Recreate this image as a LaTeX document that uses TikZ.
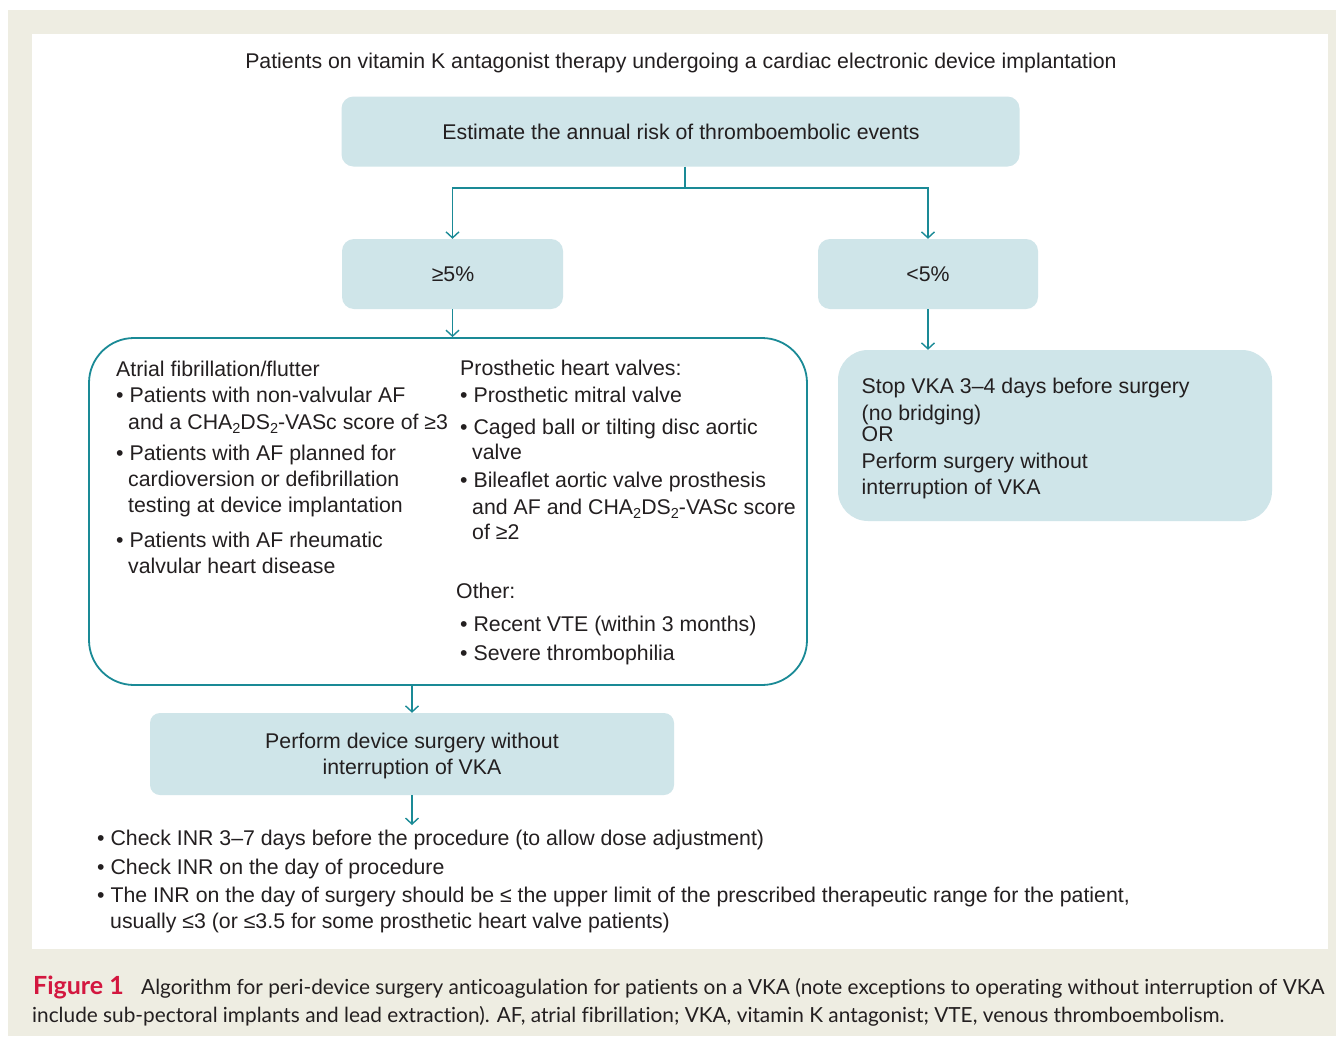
\documentclass[tikz,border=0pt]{standalone}
\usepackage{fontspec}
\setmainfont{Liberation Sans}
\newfontfamily\capfont[Ligatures=NoCommon]{Lato}
\usetikzlibrary{arrows.meta}
\definecolor{beige}{HTML}{EEEDE2}
\definecolor{boxblue}{HTML}{CFE5E9}
\definecolor{teal}{HTML}{1A8A96}
\definecolor{ink}{HTML}{231F20}
\definecolor{crimson}{HTML}{D3173F}
\newcommand{\lowsub}[1]{\raisebox{-4.5pt}{\fontsize{14.5}{14.5}\selectfont #1}}
\tikzset{
  bluebox/.style={fill=boxblue, draw=none, inner sep=0pt},
  conn/.style={draw=teal, line width=1.6pt, -{Straight Barb[length=6pt,width=13pt,line width=1.4pt]}},
  plain/.style={draw=teal, line width=1.6pt},
  txt/.style={anchor=base west, inner sep=0pt, text=ink, font=\fontsize{21.3}{24}\selectfont},
  ctxt/.style={anchor=base, inner sep=0pt, text=ink, font=\fontsize{21.3}{24}\selectfont},
  captxt/.style={anchor=base west, inner sep=0pt, text=ink, font=\capfont\fontsize{20.8}{24}\selectfont},
}
\begin{document}
\begin{tikzpicture}[x=1pt,y=-1pt]
\useasboundingbox (0,0) rectangle (1342,1039);
% backgrounds
\fill[beige] (8,10) rectangle (1336,1036);
\fill[white] (32,34) rectangle (1328,949);

% title
\node[ctxt] (title) at (681,68) {Patients on vitamin K antagonist therapy undergoing a cardiac electronic device implantation};

% boxes
\node[bluebox, rounded corners=12pt, minimum width=678pt, minimum height=70pt] (top) at (680.5,131.5) {};
\node[ctxt] (toptxt) at (681,139) {Estimate the annual risk of thromboembolic events};

\node[bluebox, rounded corners=12pt, minimum width=221pt, minimum height=70pt] (hi) at (452.5,274) {};
\node[ctxt] (hitxt) at (453,281) {≥5\%};

\node[bluebox, rounded corners=12pt, minimum width=220pt, minimum height=70pt] (lo) at (928,274) {};
\node[ctxt] (lotxt) at (928,281) {<5\%};

\node[draw=teal, line width=1.8pt, rounded corners=45pt, inner sep=0pt, minimum width=718pt, minimum height=347pt] (big) at (448,511.5) {};

\node[bluebox, rounded corners=30pt, minimum width=434pt, minimum height=171pt] (stop) at (1055,435.5) {};

\node[bluebox, rounded corners=10pt, minimum width=524pt, minimum height=82pt] (perf) at (412,754) {};
\node[ctxt] (perf1) at (412,748) {Perform device surgery without};
\node[ctxt] (perf2) at (412,774) {interruption of VKA};

% connectors
\coordinate (br) at ([xshift=4.5pt]top.south |- 0,188);
\draw[plain] ([xshift=4.5pt]top.south) -- (br);
\draw[conn] (br) -| (hi.north);
\draw[conn] (br) -| (lo.north);
\draw[conn] (hi.south) -- (hi.south |- big.north);
\draw[conn] (lo.south) -- (lo.south |- stop.north);
\draw[conn] (perf.north |- big.south) -- (perf.north);
\coordinate (lend) at (412,825);
\draw[conn] (perf.south) -- (lend);

% big box, left column
\node[txt] (a0) at (116,376.7) {Atrial fibrillation/flutter};
\node[txt] (a1) at (116,402.7) {• Patients with non-valvular AF};
\node[txt] (a2) at (128,429.3) {and a CHA\lowsub{2}DS\lowsub{2}-VASc score of ≥3};
\node[txt] (a3) at (116,460) {• Patients with AF planned for};
\node[txt] (a4) at (128,486) {cardioversion or defibrillation};
\node[txt] (a5) at (128,512) {testing at device implantation};
\node[txt] (a6) at (116,547.3) {• Patients with AF rheumatic};
\node[txt] (a7) at (128,573.3) {valvular heart disease};

% big box, right column
\node[txt] (b0) at (460,375.7) {Prosthetic heart valves:};
\node[txt] (b1) at (460,402.3) {• Prosthetic mitral valve};
\node[txt] (b2) at (460,434.3) {• Caged ball or tilting disc aortic};
\node[txt] (b3) at (472,459.3) {valve};
\node[txt] (b4) at (460,487.7) {• Bileaflet aortic valve prosthesis};
\node[txt] (b5) at (472,514) {and AF and CHA\lowsub{2}DS\lowsub{2}-VASc score};
\node[txt] (b6) at (472,539.3) {of ≥2};
\node[txt] (b7) at (456,598.7) {Other:};
\node[txt] (b8) at (460,631.7) {• Recent VTE (within 3 months)};
\node[txt] (b9) at (460,660) {• Severe thrombophilia};

% stop box text
\node[txt] (s1) at (861.5,393.3) {Stop VKA 3–4 days before surgery};
\node[txt] (s2) at (861.5,420) {(no bridging)};
\node[txt] (s3) at (861.5,441.7) {OR};
\node[txt] (s4) at (861.5,468.3) {Perform surgery without};
\node[txt] (s5) at (861.5,494) {interruption of VKA};

% bottom list
\node[txt] (c1) at (97,845) {• Check INR 3–7 days before the procedure (to allow dose adjustment)};
\node[txt] (c2) at (97,874) {• Check INR on the day of procedure};
\node[txt] (c3) at (97,902) {• The INR on the day of surgery should be ≤ the upper limit of the prescribed therapeutic range for the patient,};
\node[txt] (c4) at (110,928) {usually ≤3 (or ≤3.5 for some prosthetic heart valve patients)};

% caption
\node[captxt, text=crimson, font=\capfont\bfseries\fontsize{25}{26}\selectfont] (fig) at (33,994) {Figure 1};
\node[captxt] (cap1) at (141,994) {Algorithm for peri-device surgery anticoagulation for patients on a VKA (note exceptions to operating without interruption of VKA};
\node[captxt] (cap2) at (32,1022) {include sub-pectoral implants and lead extraction). AF, atrial fibrillation; VKA, vitamin K antagonist; VTE, venous thromboembolism.};
\end{tikzpicture}
\end{document}
